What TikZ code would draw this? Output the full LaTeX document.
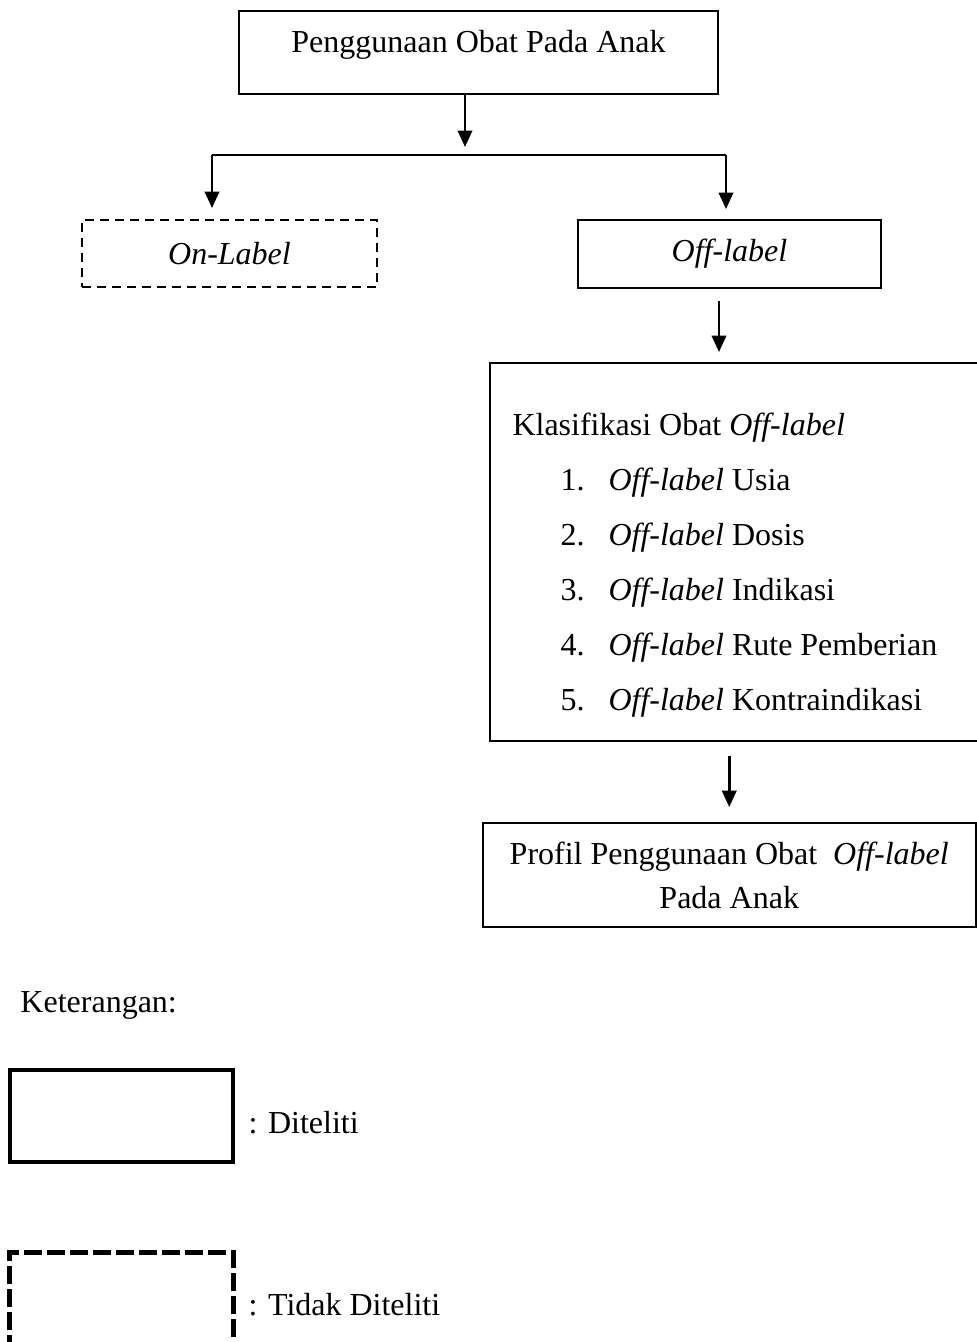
\documentclass[tikz,border=0pt]{standalone}
\usepackage{fontspec}
\setmainfont{Liberation Serif}
\usetikzlibrary{arrows.meta}

\begin{document}
\begin{tikzpicture}[x=0.4pt, y=-0.4pt,
    font=\fontsize{12.8}{17.6}\selectfont,
    box/.style={rectangle, draw, line width=0.8pt, inner sep=0pt, align=center},
    dbox/.style={box, dash pattern=on 3.6pt off 2.4pt},
    arr/.style={-{Triangle[length=6.6pt, width=5.8pt]}, line width=1pt},
    txt/.style={anchor=base west, inner sep=0pt}
  ]
  \useasboundingbox (0,0) rectangle (977,1342);

  % Main flow
  \node[box, anchor=north, minimum width=191.6pt,
        text height=16.4pt, text depth=16.8pt]
        (obat) at (478.5,10) {Penggunaan Obat Pada Anak};

  \coordinate (fork)  at (465,147);
  \coordinate (forkL) at (212,155);
  \coordinate (forkR) at (726,155);

  \node[dbox, minimum width=118pt, minimum height=26.8pt]
        (onlabel) at (229.5,253.5) {\textit{On-Label}};
  \node[box, minimum width=121.2pt, minimum height=27.2pt]
        (offlabel) at (729.5,254) {\textit{Off-label}};

  \draw[arr] (obat.south -| fork) -- (fork);
  \draw[line width=0.6pt] (forkL) -- (forkR);
  \draw[arr, shorten >=4.4pt] (forkL) -- (forkL |- onlabel.north);
  \draw[arr, shorten >=4pt]   (forkR) -- (forkR |- offlabel.north);

  % Klasifikasi
  \node[box, minimum width=200pt, minimum height=151.2pt]
        (klas) at (740,552) {};
  \node[txt] (klasjudul) at (512,435) {Klasifikasi Obat \textit{Off-label}};
  \foreach \i/\jenis in {1/Usia, 2/Dosis, 3/Indikasi,
                         4/Rute Pemberian, 5/Kontraindikasi} {
    \node[txt] (no\i)    at (560,435+55*\i) {\i.};
    \node[txt] (jenis\i) at (608,435+55*\i) {\textit{Off-label} \jenis};
  }
  \draw[arr, shorten <=4.8pt, shorten >=4pt]
        ([xshift=-4.2pt]offlabel.south) -- ([xshift=-4.2pt]offlabel.south |- klas.north);

  % Profil
  \node[box, minimum width=197pt, minimum height=41.6pt]
        (profil) at (729.25,875)
        {Profil Penggunaan Obat\ \ \textit{Off-label}\\Pada Anak};
  \draw[arr, shorten <=5.6pt, shorten >=6pt]
        (klas.south -| profil.north) -- (profil.north);

  % Keterangan
  \node[txt] (ket) at (20,1012) {Keterangan:};
  \node[rectangle, draw, line width=1.6pt, minimum width=89.2pt,
        minimum height=36.8pt] (legditeliti) at (121.5,1116) {};
  \node[txt] (lblditeliti) at (248,1133) {: Diteliti};
  \node[rectangle, draw, line width=2pt, dash pattern=on 7.2pt off 2pt,
        minimum width=89.2pt, minimum height=36.8pt]
        (legtidak) at (121.5,1298) {};
  \node[txt] (lbltidak) at (248,1315) {: Tidak Diteliti};
\end{tikzpicture}
\end{document}
